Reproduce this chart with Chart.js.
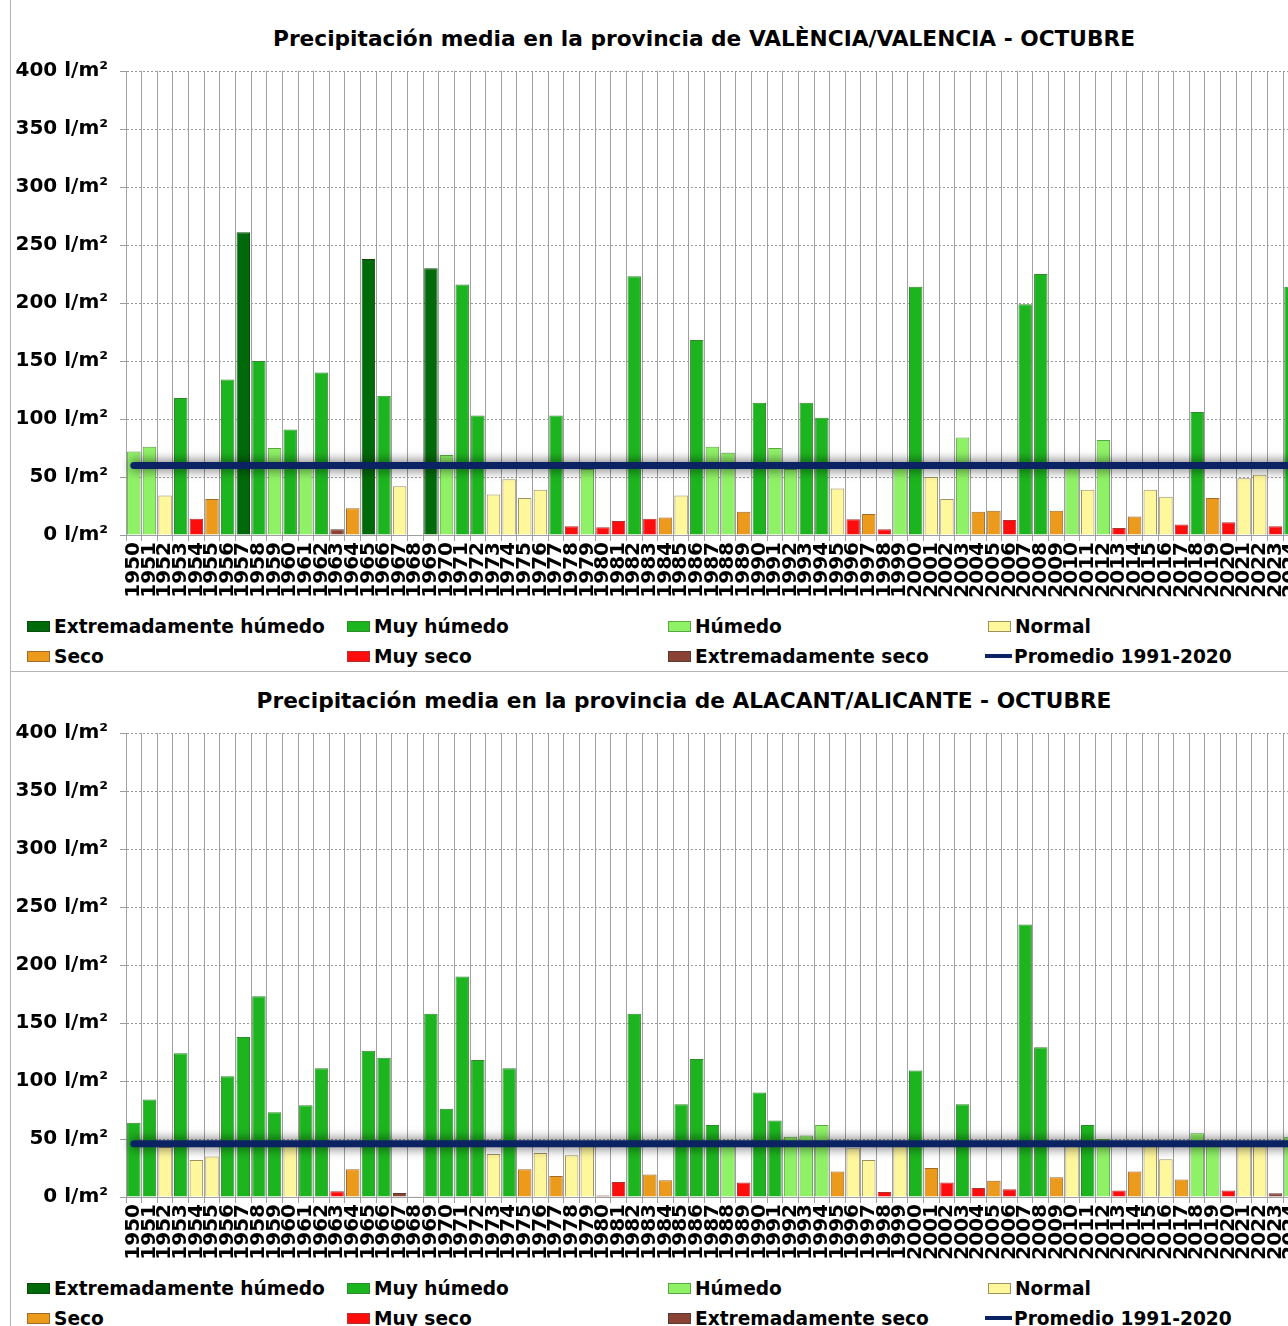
<!DOCTYPE html>
<html>
<head>
<meta charset="utf-8">
<script src="https://cdn.jsdelivr.net/npm/chart.js@4"></script>
<style>
  body { margin: 0; width: 1288px; height: 1326px; overflow: hidden; position: relative; background: #fff;
         font-family: "DejaVu Sans", Verdana, sans-serif; font-weight: bold; color: #000; }
  .vline { position: absolute; left: 10px; top: 0; width: 1px; height: 1326px; background: #b4b4b4; }
  .hline { position: absolute; left: 10px; top: 671px; width: 1300px; height: 1px; background: #b4b4b4; }
  .panel { position: absolute; left: 0; width: 1320px; height: 662px; }
  .title { position: absolute; top: 26px; transform: translateX(-50%); white-space: nowrap; font-size: 21.7px; }
  .box { position: absolute; left: 0; top: 0; width: 1316px; height: 606px; }
  .item { position: absolute; font-size: 18.6px; white-space: nowrap; line-height: 20px; }
  .item span.sw { display: inline-block; width: 23px; height: 11px; margin-right: 4px; vertical-align: 1px; box-sizing: border-box; }
  .item span.ln { display: inline-block; width: 27px; height: 4px; margin-right: 2px; vertical-align: 5px; }
</style>
</head>
<body>
<div class="vline"></div>
<div class="hline"></div>

<div class="panel" style="top:0">
  <div class="title" style="left:704px">Precipitación media en la provincia de VALÈNCIA/VALENCIA - OCTUBRE</div>
  <div class="box"><canvas id="cValencia"></canvas></div>
  <div id="lValencia"></div>
</div>
<div class="panel" style="top:662px">
  <div class="title" style="left:684px">Precipitación media en la provincia de ALACANT/ALICANTE - OCTUBRE</div>
  <div class="box"><canvas id="cAlicante"></canvas></div>
  <div id="lAlicante"></div>
</div>

<script>
// years on the x axis
const years = []
for (let y = 1950; y <= 2024; y++) years.push(String(y))

// October rainfall, l/m2
const valencia = [72, 76, 34, 118, 14, 31, 134, 261, 150, 75,
  91, 62, 140, 5, 23, 238, 120, 42, 0.5, 230,
  69, 216, 103, 35, 48, 32, 39, 103, 7.5, 57,
  6.6, 12, 223, 14, 15, 34, 168, 76, 71, 20,
  114, 75, 57, 114, 101, 40, 13.5, 18, 5, 61,
  214, 50, 31, 84, 20, 21, 13, 199, 225, 21,
  60, 39, 82, 6, 16, 39, 33, 9, 106, 32,
  11, 49, 52, 7.5, 214]
const valenciaClass = ['H', 'H', 'N', 'MH', 'MS', 'S', 'MH', 'EH', 'MH', 'H',
  'MH', 'H', 'MH', 'ES', 'S', 'EH', 'MH', 'N', 'ES', 'EH',
  'H', 'MH', 'MH', 'N', 'N', 'N', 'N', 'MH', 'MS', 'H',
  'MS', 'MS', 'MH', 'MS', 'S', 'N', 'MH', 'H', 'H', 'S',
  'MH', 'H', 'H', 'MH', 'MH', 'N', 'MS', 'S', 'MS', 'H',
  'MH', 'N', 'N', 'H', 'S', 'S', 'MS', 'MH', 'MH', 'S',
  'H', 'N', 'H', 'MS', 'S', 'N', 'N', 'MS', 'MH', 'S',
  'MS', 'N', 'N', 'MS', 'MH']
const valenciaMean = 60

const alicante = [64, 84, 43, 124, 32, 35, 104, 138, 173, 73,
  45, 79, 111, 5, 24, 126, 120, 3.4, 0.6, 158,
  76, 190, 118, 37, 111, 24, 38, 18, 36, 45,
  1.4, 13, 158, 19.5, 14.5, 80, 119, 62, 49, 12.6,
  90, 66, 52, 53, 62, 22, 42, 32, 4.3, 45,
  109, 25, 12.6, 80, 7.8, 14, 6.6, 235, 129, 17,
  45, 62, 50, 5.5, 22, 45, 32.5, 15, 55, 47,
  5.5, 45, 45, 3.2, 52]
const alicanteClass = ['MH', 'MH', 'N', 'MH', 'N', 'N', 'MH', 'MH', 'MH', 'MH',
  'N', 'MH', 'MH', 'MS', 'S', 'MH', 'MH', 'ES', 'ES', 'MH',
  'MH', 'MH', 'MH', 'N', 'MH', 'S', 'N', 'S', 'N', 'N',
  'ES', 'MS', 'MH', 'S', 'S', 'MH', 'MH', 'MH', 'H', 'MS',
  'MH', 'MH', 'H', 'H', 'H', 'S', 'N', 'N', 'MS', 'N',
  'MH', 'S', 'MS', 'MH', 'MS', 'S', 'MS', 'MH', 'MH', 'S',
  'N', 'MH', 'H', 'MS', 'S', 'N', 'N', 'S', 'H', 'H',
  'MS', 'N', 'N', 'ES', 'H']
const alicanteMean = 46

// legend: class codes and labels in the order shown
const classCodes = ['EH', 'MH', 'H', 'N', 'S', 'MS', 'ES']
const classLabels = ['Extremadamente húmedo', 'Muy húmedo', 'Húmedo', 'Normal',
  'Seco', 'Muy seco', 'Extremadamente seco']
const meanLabel = 'Promedio 1991-2020'

// y ticks
const yTicks = [0, 50, 100, 150, 200, 250, 300, 350, 400]

const fill = { EH: '#006a0a', MH: '#1db51f', H: '#8ff266', N: '#fff79c', S: '#ec9a1b', MS: '#ff0c0c', ES: '#8a4234' }
const edge = { EH: '#0a4a0a', MH: '#2f8a2a', H: '#5aa640', N: '#9c9160', S: '#a06a28', MS: '#b23030', ES: '#5a3a34' }
const navy = '#0b2362'

// soft shadow round the average line
const glowPlugin = {
  id: 'glow',
  beforeDatasetDraw(chart, args) {
    if (args.meta.type !== 'line') return
    const ctx = chart.ctx
    ctx.save()
    ctx.shadowColor = 'rgba(0,0,0,0.75)'
    ctx.shadowBlur = 12
  },
  afterDatasetDraw(chart, args) {
    if (args.meta.type !== 'line') return
    chart.ctx.restore()
  }
}

const makeChart = (id, values, classes, mean) =>
{
  const ctx = document.getElementById(id).getContext('2d')
  return new Chart(ctx, {
    type: 'bar',
    data: {
      labels: years,
      datasets: [{
        type: 'line',
        data: years.map(() => mean),
        borderColor: navy,
        borderWidth: 7,
        borderCapStyle: 'round',
        pointRadius: 0,
        order: 0
      }, {
        data: values,
        backgroundColor: classes.map(c => fill[c]),
        borderColor: classes.map(c => edge[c]),
        borderWidth: 1,
        barPercentage: 0.86,
        categoryPercentage: 1,
        order: 1
      }]
    },
    options: {
      responsive: true,
      maintainAspectRatio: false,
      animation: false,
      layout: { padding: { top: 71, right: 0, bottom: 0, left: 0 } },
      plugins: { legend: { display: false }, tooltip: { enabled: false } },
      scales: {
        x: {
          offset: true,
          grid: { offset: true, color: '#a0a0a0', lineWidth: 1, tickLength: 6 },
          border: { color: '#a0a0a0' },
          ticks: {
            autoSkip: false, minRotation: 90, maxRotation: 90, padding: 1,
            color: '#000', font: { family: 'DejaVu Sans', weight: 'bold', size: 20 }
          },
          afterFit: s => { s.height = 71 }
        },
        y: {
          min: 0, max: 400,
          afterBuildTicks: s => { s.ticks = yTicks.map(v => ({ value: v })) },
          grid: { color: '#9a9a9a', lineWidth: 1, tickLength: 6 },
          border: { color: '#a0a0a0', dash: [2, 2] },
          ticks: {
            padding: 12, color: '#000',
            font: { family: 'DejaVu Sans', weight: 'bold', size: 20 },
            callback: v => v + ' l/m²'
          },
          afterFit: s => { s.width = 126 }
        }
      }
    },
    plugins: [glowPlugin]
  })
}

const makeLegend = (id) =>
{
  const el = document.getElementById(id)
  const cols = [27, 347, 668, 988]
  const rows = [617, 647]
  const items = classCodes.map((c, i) => ({ html: '<span class="sw" style="background:' + fill[c] + ';border:1px solid ' + edge[c] + '"></span>' + classLabels[i] }))
  items.push({ html: '<span class="ln" style="background:' + navy + '"></span>' + meanLabel })
  items.forEach((it, i) => {
    const d = document.createElement('div')
    d.className = 'item'
    d.style.left = (i === 7 ? cols[3] - 3 : cols[i % 4]) + 'px'
    d.style.top = rows[Math.floor(i / 4)] + 'px'
    d.innerHTML = it.html
    el.appendChild(d)
  })
}

makeChart('cValencia', valencia, valenciaClass, valenciaMean)
makeChart('cAlicante', alicante, alicanteClass, alicanteMean)
makeLegend('lValencia')
makeLegend('lAlicante')
</script>
</body>
</html>
